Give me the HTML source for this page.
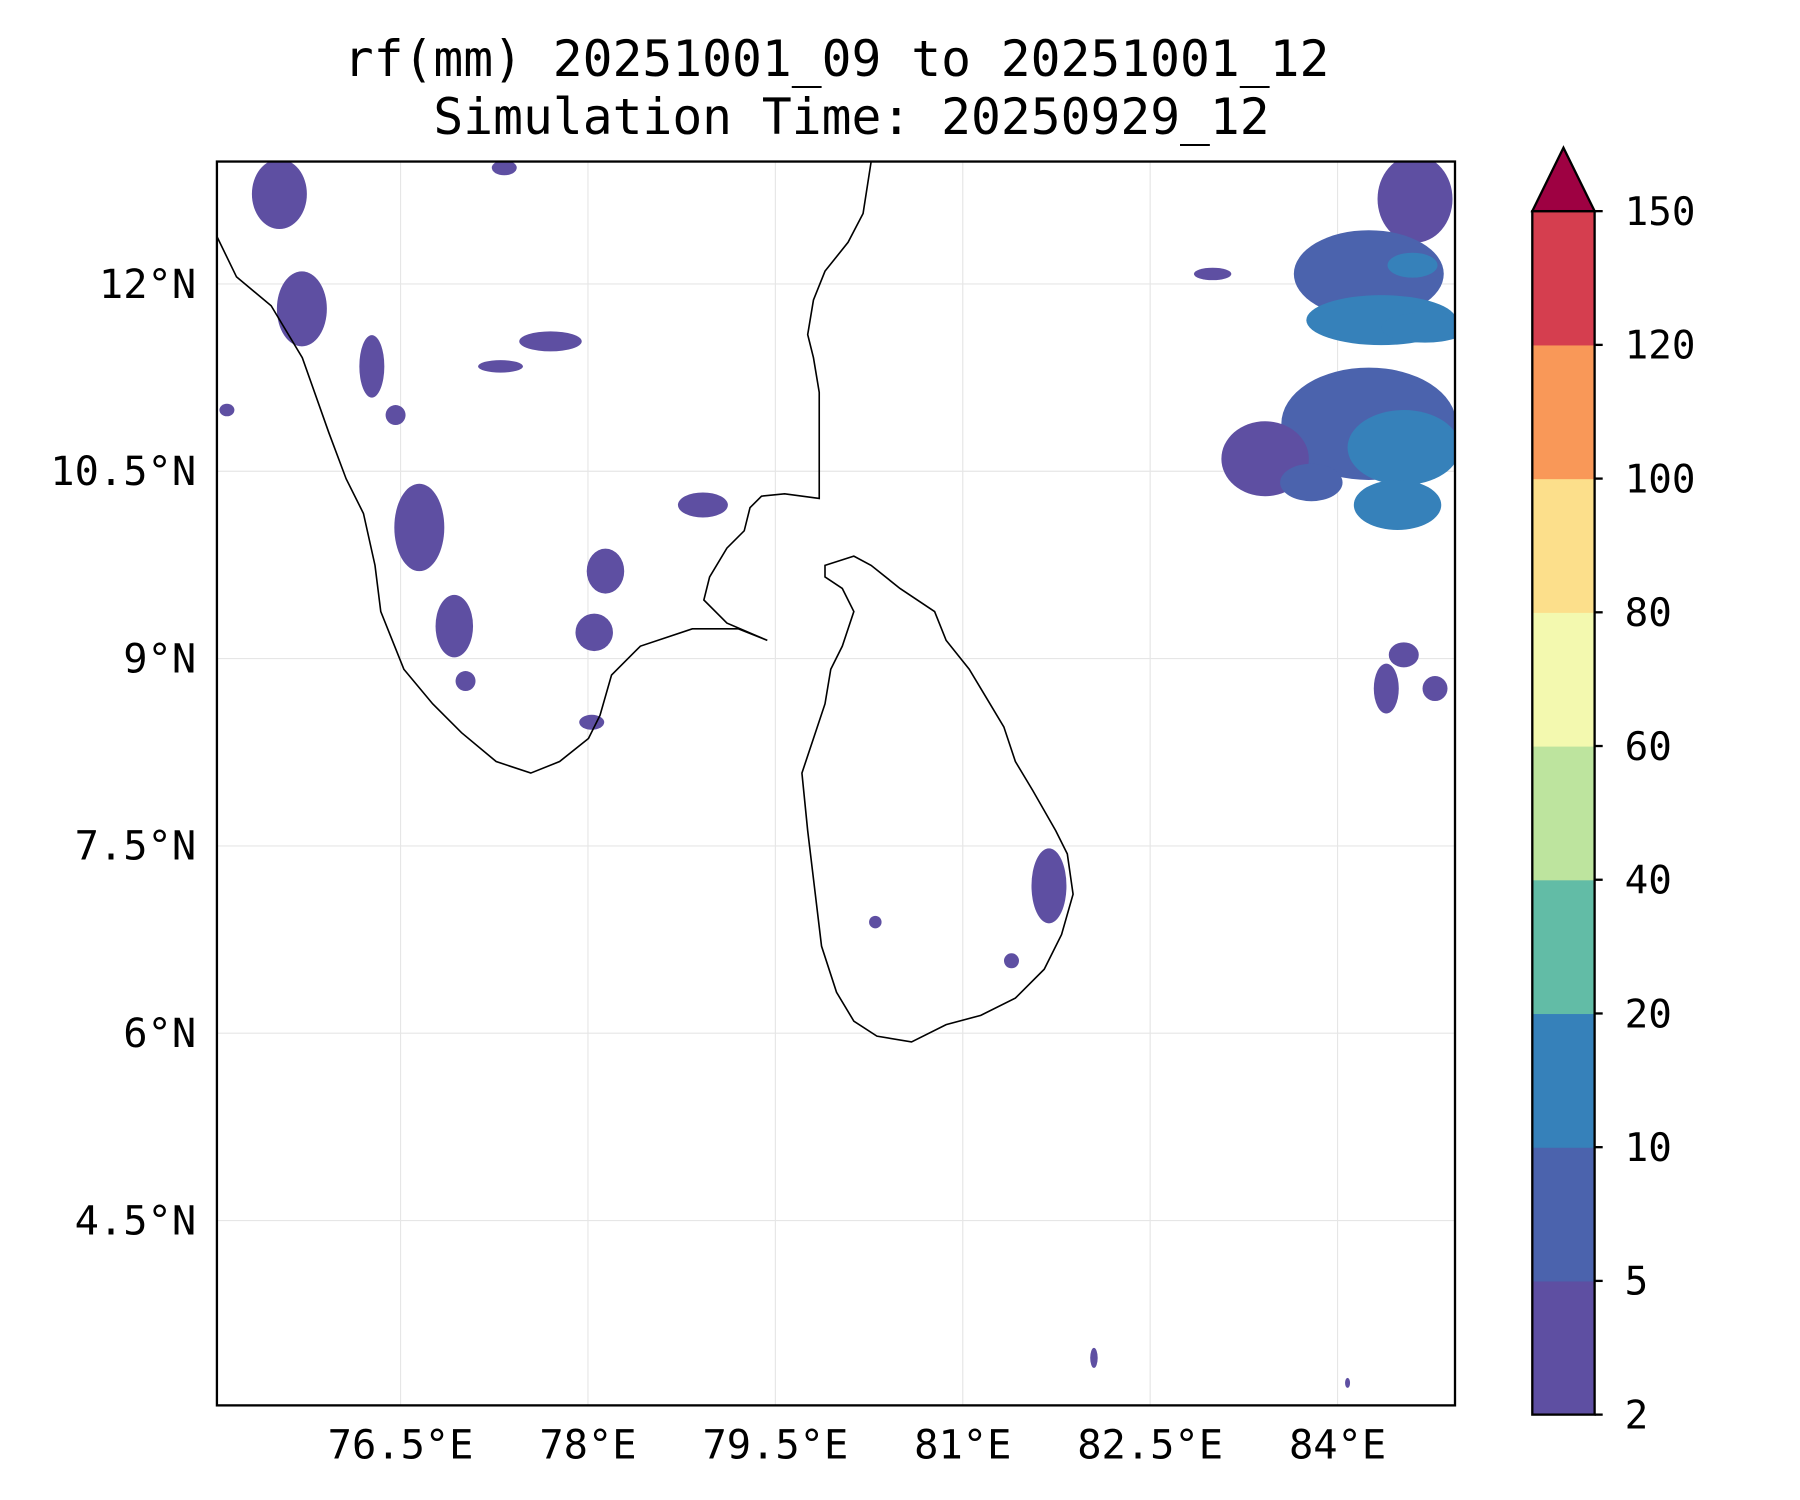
<!DOCTYPE html>
<html><head><meta charset="utf-8"><style>
html,body{margin:0;padding:0;background:#fff;}
svg{display:block;font-family:"DejaVu Sans Mono","Liberation Mono",monospace;}
</style></head><body>
<svg id="chart" width="1800" height="1500" viewBox="0 0 1560 1300" xmlns="http://www.w3.org/2000/svg">
<text x="725" y="66" font-size="43" text-anchor="middle">rf(mm) 20251001_09 to 20251001_12</text>
<text x="738" y="116" font-size="43" text-anchor="middle">Simulation Time: 20250929_12</text>
<defs><clipPath id="mapclip"><rect x="188" y="140" width="1073" height="1078"/></clipPath></defs>
<g id="grid"></g>
<g id="blobs" clip-path="url(#mapclip)"></g>
<g clip-path="url(#mapclip)">
<path d="M188,205 L205,240 L235,265 L262,310 L285,375 L300,415 L315,445 L325,490 L330,530 L350,580 L375,610 L400,635 L430,660 L460,670 L485,660 L510,640 L520,620 L530,585 L555,560 L600,545 L640,545 L665,555 L630,540 L610,520 L615,500 L630,475 L645,460 L650,440 L660,430 L680,428 L710,432 L710,340 L705,310 L700,290 L705,260 L715,235 L735,210 L748,185 L755,140" fill="none" stroke="#000" stroke-width="1.4"/>
<path d="M715,490 L740,482 L755,490 L780,510 L810,530 L820,555 L840,580 L855,605 L870,630 L880,660 L895,685 L915,720 L925,740 L930,775 L920,810 L905,840 L880,865 L850,880 L820,888 L790,903 L760,898 L740,885 L725,860 L712,820 L706,770 L700,720 L695,670 L705,640 L715,610 L720,580 L730,560 L740,530 L730,510 L715,500 Z" fill="none" stroke="#000" stroke-width="1.4"/>
</g>
<rect x="188" y="140" width="1073" height="1078" fill="none" stroke="#000" stroke-width="2"/>
<g id="axes" font-size="35"></g>
<g id="cbar"></g>
</svg>
<script>
const lonTicks=[76.5,78,79.5,81,82.5,84];
const lonLabels=["76.5°E","78°E","79.5°E","81°E","82.5°E","84°E"];
const latTicks=[12,10.5,9,7.5,6,4.5];
const latLabels=["12°N","10.5°N","9°N","7.5°N","6°N","4.5°N"];
const cbLevels=[2,5,10,20,40,60,80,100,120,150];
const cbColors=["#5e4fa2","#4b63ad","#3681ba","#62bca6","#bde49e","#f3f9af","#fcdf8b","#f99858","#d53e4f"];
const extendColor="#9e0142";
// rainfall cells: lon, lat, rx(deg), ry(deg), level index
const blobLon=[75.53,75.71,76.27,76.46,76.65,76.93,77.02,77.7,77.3,78.14,78.05,78.92,78.03,81.69,81.39,80.3,77.33,75.11,84.62,84.25,84.35,84.25,84.53,83.42,83.79,84.48,83.0,84.53,84.39,84.78,82.05,84.08,84.7,84.6];
const blobLat=[12.72,11.8,11.34,10.95,10.05,9.26,8.82,11.54,11.34,9.7,9.21,10.23,8.49,7.18,6.58,6.89,12.93,10.99,12.68,12.08,11.71,10.88,10.69,10.6,10.41,10.23,12.08,9.03,8.76,8.76,3.4,3.2,11.65,12.15];
const blobRx=[0.22,0.2,0.1,0.08,0.2,0.15,0.08,0.25,0.18,0.15,0.15,0.2,0.1,0.14,0.06,0.05,0.1,0.06,0.3,0.6,0.6,0.7,0.45,0.35,0.25,0.35,0.15,0.12,0.1,0.1,0.03,0.02,0.35,0.2];
const blobRy=[0.28,0.3,0.25,0.08,0.35,0.25,0.08,0.08,0.05,0.18,0.15,0.1,0.06,0.3,0.06,0.05,0.06,0.05,0.35,0.35,0.2,0.45,0.3,0.3,0.15,0.2,0.05,0.1,0.2,0.1,0.08,0.04,0.12,0.1];
const blobLvl=[0,0,0,0,0,0,0,0,0,0,0,0,0,0,0,0,0,0,0,1,2,1,2,0,1,2,0,0,0,0,0,0,2,2];
const lonMin=75.03,lonMax=84.94,latMin=3.02,latMax=12.98;
const X0=188,X1=1261,Y0=140,Y1=1218;
const xs=l=>X0+(l-lonMin)/(lonMax-lonMin)*(X1-X0);
const ys=l=>Y1-(l-latMin)/(latMax-latMin)*(Y1-Y0);
const NS="http://www.w3.org/2000/svg";
function mk(t,a,p){const e=document.createElementNS(NS,t);for(const k in a)e.setAttribute(k,a[k]);p.appendChild(e);return e;}
const grid=document.getElementById('grid'),axes=document.getElementById('axes'),blobs=document.getElementById('blobs'),cbar=document.getElementById('cbar');
lonTicks.forEach((v,i)=>{
 const x=xs(v);
 const g=mk('line',{x1:x,x2:x,y1:Y0,y2:Y1,stroke:'#e6e6e6','stroke-width':1},grid);
 
 
 const t=mk('text',{x:x,y:1264,'text-anchor':'middle'},axes);t.textContent=lonLabels[i];
 
 
});
latTicks.forEach((v,i)=>{
 const y=ys(v);
 const g=mk('line',{x1:X0,x2:X1,y1:y,y2:y,stroke:'#e6e6e6','stroke-width':1},grid);
 
 
 const t=mk('text',{x:170,y:y+12,'text-anchor':'end'},axes);t.textContent=latLabels[i];
 
 
});
const pxPerDeg=(X1-X0)/(lonMax-lonMin);
blobLon.forEach((v,i)=>{
 const e=mk('ellipse',{cx:xs(v),cy:ys(blobLat[i]),rx:blobRx[i]*pxPerDeg,ry:blobRy[i]*pxPerDeg,fill:cbColors[blobLvl[i]]},blobs);
 
 
});
// colorbar
const CX=1328,CW=54,CT=183,CB=1226;
const n=cbLevels.length-1,h=(CB-CT)/n;
cbColors.forEach((c,i)=>{
 const r=mk('rect',{x:CX,y:CB-(i+1)*h,width:CW,height:h+0.5,fill:c},cbar);
 
 
});
const tri=mk('polygon',{points:`${CX},${CT} ${CX+CW/2},128 ${CX+CW},${CT}`,fill:extendColor,stroke:'#000','stroke-width':2},cbar);


mk('rect',{x:CX,y:CT,width:CW,height:CB-CT,fill:'none',stroke:'#000','stroke-width':2},cbar);
cbLevels.forEach((v,i)=>{
 const y=CB-i*h;
 mk('line',{x1:CX+CW,x2:CX+CW+7,y1:y,y2:y,stroke:'#000','stroke-width':2},cbar);
 const t=mk('text',{x:1408,y:y+12,'font-size':34},cbar);t.textContent=v;
 
 
});
</script>
</body></html>
